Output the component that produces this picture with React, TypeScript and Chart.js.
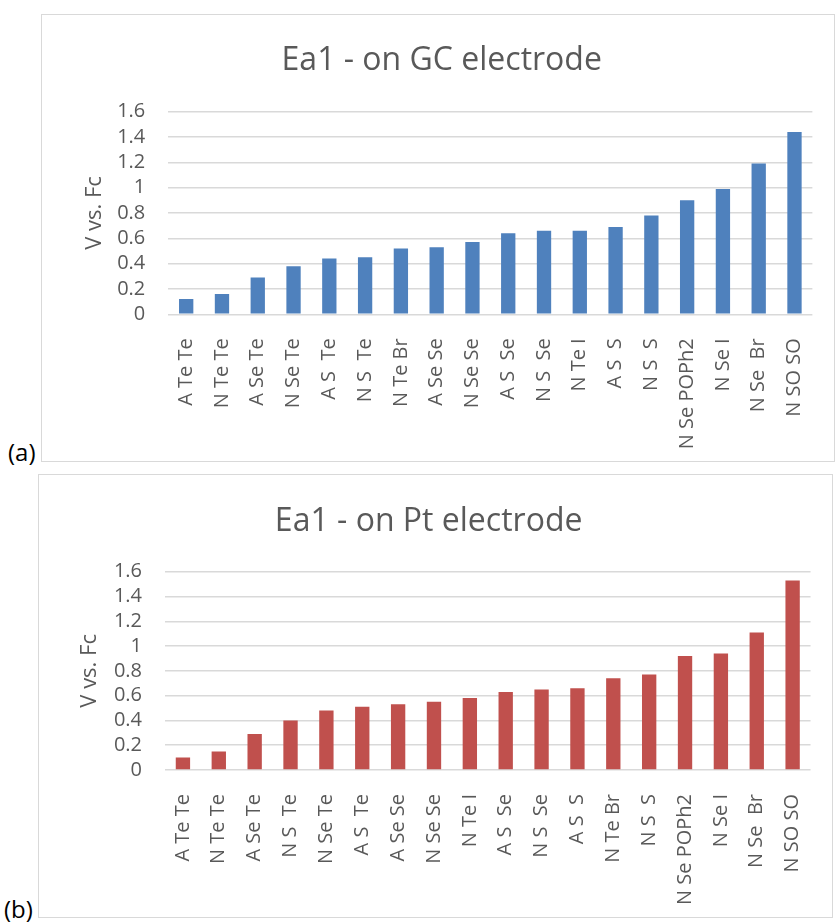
import React, { useEffect, useRef } from "react";
import { Chart, registerables } from "chart.js";

Chart.register(...registerables);

// Panel (a): first anodic peak potentials on the glassy-carbon electrode
const gcLabels = [
  "A Te Te", "N Te Te", "A Se Te", "N Se Te", "A S  Te", "N S  Te",
  "N Te Br", "A Se Se", "N Se Se", "A S  Se", "N S  Se", "N Te I",
  "A S  S", "N S  S", "N Se POPh2", "N Se I", "N Se  Br", "N SO SO",
];
const gcValues = [
  0.12, 0.16, 0.29, 0.38, 0.44, 0.45, 0.52, 0.53, 0.57,
  0.64, 0.66, 0.66, 0.69, 0.78, 0.9, 0.99, 1.19, 1.44,
];

// Panel (b): the same quantity measured on platinum
const ptLabels = [
  "A Te Te", "N Te Te", "A Se Te", "N S  Te", "N Se Te", "A S  Te",
  "A Se Se", "N Se Se", "N Te I", "A S  Se", "N S  Se", "A S  S",
  "N Te Br", "N S  S", "N Se POPh2", "N Se I", "N Se  Br", "N SO SO",
];
const ptValues = [
  0.1, 0.15, 0.29, 0.4, 0.48, 0.51, 0.53, 0.55, 0.58,
  0.63, 0.65, 0.66, 0.74, 0.77, 0.92, 0.94, 1.11, 1.53,
];

const yMin = 0;
const yMax = 1.6;
const yStep = 0.2;
const yAxisTitle = "V vs. Fc";

const TEXT = "#595959";
const GRID = "#d9d9d9";
const FONT = "'Open Sans', 'DejaVu Sans', sans-serif";

type Geometry = {
  left: number;
  top: number;
  width: number;
  height: number;
  padLeft: number;
  padRight: number;
  yAxisWidth: number;
  xAxisHeight: number;
  titleTop: number;
  titleBottom: number;
  yTitlePad: number;
};

type PanelProps = {
  title: string;
  labels: string[];
  values: number[];
  color: string;
  geo: Geometry;
};

function BarPanel({ title, labels, values, color, geo }: PanelProps) {
  const ref = useRef<HTMLCanvasElement | null>(null);

  useEffect(() => {
    if (!ref.current) return;
    const chart = new Chart(ref.current, {
      type: "bar",
      data: {
        labels,
        datasets: [
          {
            data: values,
            backgroundColor: color,
            barPercentage: 0.4,
            categoryPercentage: 1,
          },
        ],
      },
      options: {
        responsive: false,
        maintainAspectRatio: false,
        animation: false,
        devicePixelRatio: 1,
        layout: {
          padding: { left: geo.padLeft, right: geo.padRight, top: 0, bottom: 0 },
        },
        plugins: {
          legend: { display: false },
          tooltip: { enabled: false },
          title: {
            display: true,
            text: title,
            color: TEXT,
            font: { family: FONT, size: 32, weight: "normal" },
            padding: { top: geo.titleTop, bottom: geo.titleBottom },
          },
        },
        scales: {
          x: {
            grid: { display: false },
            border: { display: false },
            ticks: {
              autoSkip: false,
              maxRotation: 90,
              minRotation: 90,
              padding: 16,
              color: TEXT,
              font: { family: FONT, size: 20 },
            },
            afterFit: (s: any) => {
              s.height = geo.xAxisHeight;
            },
          },
          y: {
            min: yMin,
            max: yMax,
            grid: { color: GRID, lineWidth: 1.5, drawTicks: false },
            border: { display: false },
            ticks: {
              stepSize: yStep,
              autoSkip: false,
              padding: 23,
              color: TEXT,
              font: { family: FONT, size: 20 },
              callback: (v: any) => String(Number(Number(v).toFixed(1))),
            },
            title: {
              display: true,
              text: yAxisTitle,
              color: TEXT,
              font: { family: FONT, size: 22 },
              padding: { top: geo.yTitlePad, bottom: 0 },
            },
            afterFit: (s: any) => {
              s.width = geo.yAxisWidth;
            },
          },
        },
      },
    } as any);
    return () => chart.destroy();
  }, [title, labels, values, color, geo]);

  return (
    <>
      <div
        style={{
          position: "absolute",
          left: geo.left,
          top: geo.top,
          width: geo.width,
          height: geo.height,
          boxSizing: "border-box",
          border: `1px solid ${GRID}`,
          background: "#fff",
        }}
      />
      <canvas
        ref={ref}
        width={geo.width}
        height={geo.height}
        style={{
          position: "absolute",
          left: geo.left,
          top: geo.top,
          width: geo.width,
          height: geo.height,
        }}
      />
    </>
  );
}

const gcGeo: Geometry = {
  left: 41,
  top: 14,
  width: 794,
  height: 448,
  padLeft: 26,
  padRight: 18.5,
  yAxisWidth: 101.3,
  xAxisHeight: 147.7,
  titleTop: 27.7,
  titleBottom: 31.6,
  yTitlePad: 15,
};

const ptGeo: Geometry = {
  left: 38,
  top: 474,
  width: 795,
  height: 444,
  padLeft: 0,
  padRight: 13.7,
  yAxisWidth: 127,
  xAxisHeight: 148,
  titleTop: 28.7,
  titleBottom: 30.6,
  yTitlePad: 38.4,
};

const panelTag: React.CSSProperties = {
  position: "absolute",
  fontFamily: FONT,
  fontSize: 24,
  lineHeight: "24px",
  color: "#000",
};

export default function App() {
  return (
    <div
      style={{
        position: "absolute",
        left: 0,
        top: 0,
        width: 836,
        height: 922,
        overflow: "hidden",
        background: "#fff",
      }}
    >
      <BarPanel
        title="Ea1 - on GC electrode"
        labels={gcLabels}
        values={gcValues}
        color="#4F81BD"
        geo={gcGeo}
      />
      <BarPanel
        title="Ea1 - on Pt electrode"
        labels={ptLabels}
        values={ptValues}
        color="#C0504D"
        geo={ptGeo}
      />
      <span style={{ ...panelTag, left: 8, top: 440 }}>(a)</span>
      <span style={{ ...panelTag, left: 4, top: 897 }}>(b)</span>
    </div>
  );
}
